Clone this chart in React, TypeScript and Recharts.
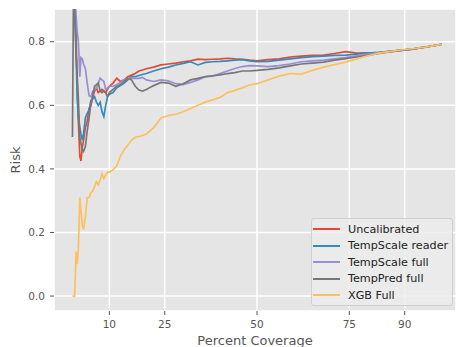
import { CartesianGrid, Line, LineChart, XAxis, YAxis } from "recharts";

const FONT = "'DejaVu Sans', sans-serif";
const TEXT = "#555555";

// percent coverage grid shared by every series
const coverage = [
  0, 0.3, 0.6, 1, 1.3, 1.6, 2, 2.3, 2.7, 3,
  3.5, 4, 4.5, 5, 5.5, 6, 6.5, 7, 7.5, 8,
  8.5, 9, 9.5, 10, 11, 12, 13, 14, 15, 16,
  17, 18, 19, 20, 22, 24, 26, 28, 30, 32,
  34, 36, 38, 40, 42, 44, 46, 48, 50, 53,
  56, 59, 62, 65, 68, 71, 74, 77, 80, 83,
  86, 89, 92, 95, 98, 100,
];

const uncalibrated = [
  1.0, 1.0, 0.95, 0.8, 0.66, 0.55, 0.44, 0.425, 0.47, 0.49,
  0.53, 0.55, 0.59, 0.6, 0.625, 0.645, 0.655, 0.64, 0.645, 0.65,
  0.645, 0.64, 0.65, 0.66, 0.67, 0.685, 0.675, 0.68, 0.69, 0.695,
  0.7, 0.708, 0.711, 0.715, 0.72, 0.727, 0.73, 0.733, 0.737, 0.74,
  0.745, 0.744, 0.745, 0.746, 0.748, 0.746, 0.745, 0.742, 0.74, 0.744,
  0.746, 0.752, 0.755, 0.757, 0.758, 0.763, 0.769, 0.764, 0.765, 0.766,
  0.77, 0.774, 0.777, 0.782, 0.788, 0.792,
];

const tempScaleReader = [
  1.0, 1.0, 0.9, 0.75, 0.62, 0.56, 0.53, 0.51, 0.49, 0.51,
  0.56, 0.575, 0.585, 0.615, 0.62, 0.627, 0.61, 0.6, 0.61, 0.58,
  0.565, 0.6, 0.627, 0.635, 0.64, 0.655, 0.662, 0.67, 0.68, 0.69,
  0.69, 0.694, 0.697, 0.7, 0.708, 0.715, 0.72, 0.727, 0.732, 0.737,
  0.727, 0.735, 0.737, 0.738, 0.74, 0.742, 0.744, 0.74, 0.737, 0.738,
  0.742, 0.746, 0.75, 0.753, 0.755, 0.757, 0.758, 0.761, 0.764, 0.767,
  0.77, 0.773, 0.777, 0.782, 0.788, 0.792,
];

const tempScaleFull = [
  1.0, 1.0, 0.95, 0.88, 0.83, 0.8, 0.69, 0.75, 0.745, 0.73,
  0.715, 0.67, 0.63, 0.627, 0.645, 0.648, 0.655, 0.67, 0.685, 0.68,
  0.675, 0.65, 0.655, 0.66, 0.66, 0.665, 0.672, 0.68, 0.683, 0.685,
  0.685, 0.685, 0.688, 0.68, 0.675, 0.68, 0.677, 0.668, 0.665, 0.672,
  0.68, 0.69, 0.692, 0.7, 0.708, 0.716, 0.722, 0.725, 0.724, 0.722,
  0.725, 0.73, 0.737, 0.74, 0.742, 0.746, 0.75, 0.756, 0.761, 0.765,
  0.769, 0.773, 0.777, 0.782, 0.788, 0.792,
];

const tempPredFull = [
  0.5, 1.0, 0.92, 0.76, 0.69, 0.62, 0.5, 0.48, 0.46, 0.455,
  0.47, 0.52, 0.56, 0.605, 0.63, 0.66, 0.665, 0.67, 0.645, 0.64,
  0.645, 0.64, 0.627, 0.64, 0.65, 0.66, 0.665, 0.675, 0.685, 0.68,
  0.66, 0.648, 0.645, 0.65, 0.662, 0.672, 0.67, 0.66, 0.668, 0.68,
  0.685, 0.69, 0.693, 0.696, 0.7, 0.703, 0.708, 0.708, 0.71, 0.713,
  0.718, 0.724, 0.73, 0.733, 0.736, 0.742, 0.747, 0.752, 0.757, 0.763,
  0.768, 0.773, 0.777, 0.782, 0.788, 0.792,
];

const xgbFull = [
  0, 0, 0, 0.14, 0.1, 0.15, 0.31, 0.27, 0.22, 0.21,
  0.25, 0.31, 0.31, 0.325, 0.33, 0.345, 0.36, 0.35, 0.365, 0.385,
  0.37, 0.38, 0.39, 0.39, 0.397, 0.41, 0.44, 0.46, 0.475, 0.49,
  0.5, 0.502, 0.505, 0.51, 0.53, 0.56, 0.568, 0.572, 0.58, 0.59,
  0.6, 0.61, 0.617, 0.625, 0.64, 0.647, 0.655, 0.664, 0.668, 0.68,
  0.692, 0.7, 0.698, 0.71, 0.72, 0.728, 0.736, 0.746, 0.756, 0.764,
  0.769, 0.774, 0.778, 0.782, 0.788, 0.792,
];

const xTicks = [10, 25, 50, 75, 90];
const yTicks = [0, 0.2, 0.4, 0.6, 0.8];

const series = [
  { key: "uncal", name: "Uncalibrated", color: "#E24A33", values: uncalibrated },
  { key: "tsReader", name: "TempScale reader", color: "#348ABD", values: tempScaleReader },
  { key: "tsFull", name: "TempScale full", color: "#988ED5", values: tempScaleFull },
  { key: "tpFull", name: "TempPred full", color: "#777777", values: tempPredFull },
  { key: "xgb", name: "XGB Full", color: "#FBC15E", values: xgbFull },
];

const data = coverage.map((c, i) => {
  const row: Record<string, number> = { coverage: c };
  series.forEach((s) => (row[s.key] = s.values[i]));
  return row;
});

const Legend = () => (
  <div
    style={{
      position: "absolute",
      left: 311,
      top: 218,
      width: 142,
      height: 88,
      background: "rgba(236,236,236,0.85)",
      border: "1px solid #d0d0d0",
      borderRadius: 3,
      fontFamily: FONT,
      fontSize: 11.2,
      color: "#222",
      boxSizing: "border-box",
      paddingTop: 2,
    }}
  >
    {series.map((s) => (
      <div key={s.key} style={{ display: "flex", alignItems: "center", height: 16.5, whiteSpace: "nowrap" }}>
        <div style={{ width: 27, height: 1.8, background: s.color, marginLeft: 1, marginRight: 8 }} />
        <span>{s.name}</span>
      </div>
    ))}
  </div>
);

export default function App() {
  return (
    <div style={{ position: "absolute", left: 0, top: 0, width: 456, height: 347, background: "#fff", overflow: "hidden" }}>
      <LineChart
        width={456}
        height={347}
        data={data}
        margin={{ top: 9, right: 0, bottom: 0, left: 0 }}
        style={{ fontFamily: FONT }}
      >
        <CartesianGrid fill="#E5E5E5" fillOpacity={1} stroke="#ffffff" strokeWidth={1.5} />
        <XAxis
          dataKey="coverage"
          type="number"
          domain={[-5, 103.9]}
          allowDataOverflow
          ticks={xTicks}
          height={36}
          axisLine={false}
          tickSize={4}
          tickMargin={6}
          tickLine={{ stroke: TEXT }}
          tick={{ fill: TEXT, fontSize: 10.5, fontFamily: FONT }}
          label={{ value: "Percent Coverage", position: "insideBottom", offset: 2, fill: TEXT, fontSize: 13, fontFamily: FONT }}
        />
        <YAxis
          type="number"
          domain={[-0.047, 0.903]}
          allowDataOverflow
          ticks={yTicks}
          width={54}
          axisLine={false}
          tickSize={4}
          tickMargin={5}
          tickLine={{ stroke: TEXT }}
          tickFormatter={(v: number) => v.toFixed(1)}
          tick={{ fill: TEXT, fontSize: 10.5, fontFamily: FONT }}
          label={{
            content: () => (
              <text
                x={15}
                y={160}
                transform="rotate(-90 15 160)"
                textAnchor="middle"
                dominantBaseline="central"
                fill={TEXT}
                fontSize={13}
                fontFamily={FONT}
              >
                Risk
              </text>
            ),
          }}
        />
        {series.map((s) => (
          <Line
            key={s.key}
            dataKey={s.key}
            name={s.name}
            stroke={s.color}
            strokeWidth={1.7}
            dot={false}
            type="linear"
            isAnimationActive={false}
          />
        ))}
      </LineChart>
      <Legend />
    </div>
  );
}
